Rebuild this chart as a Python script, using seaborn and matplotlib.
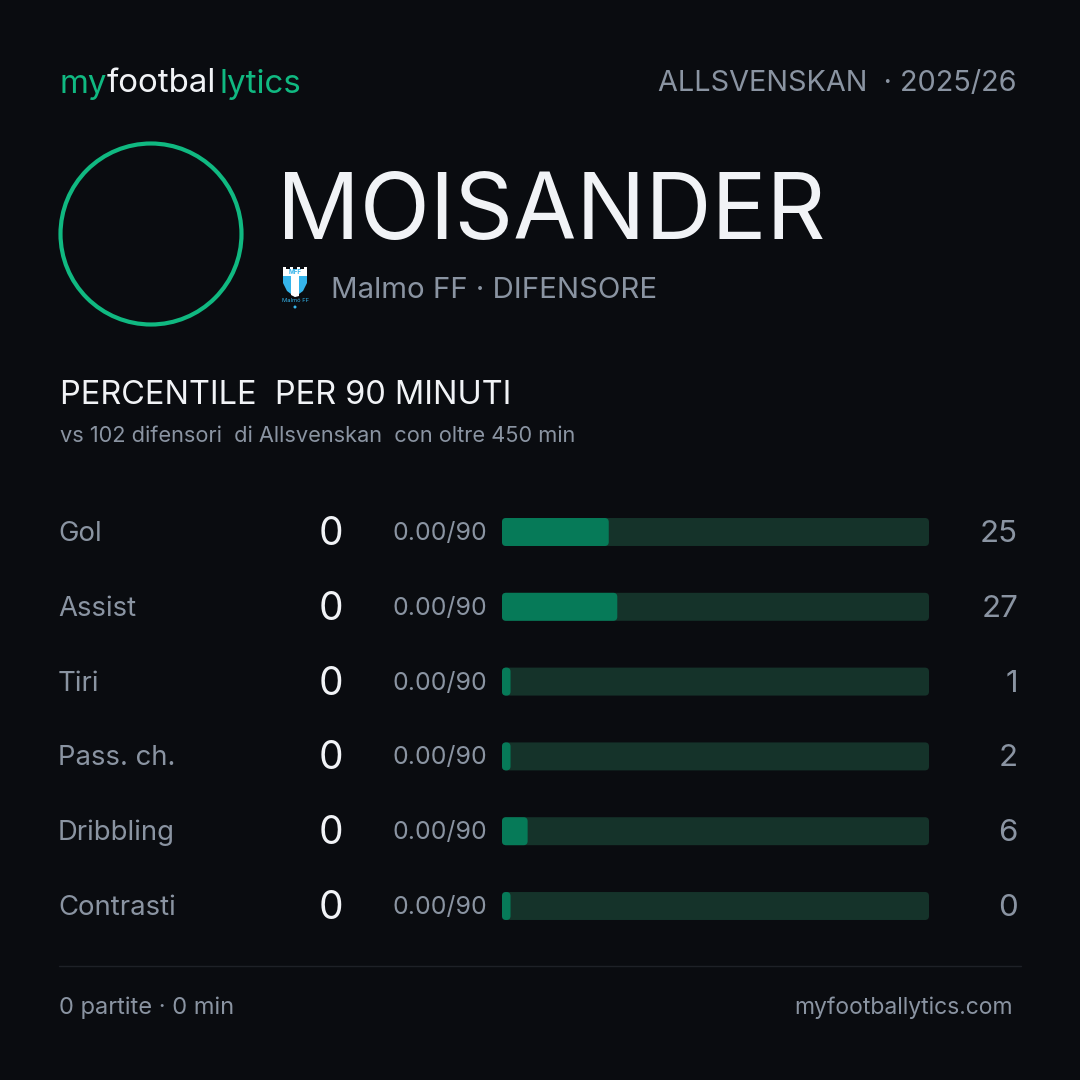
import matplotlib
matplotlib.use('Agg')
import matplotlib.pyplot as plt
import seaborn as sns
import pandas as pd
from matplotlib.patches import Circle, FancyBboxPatch, Polygon

# Data
metrics = ['Gol', 'Assist', 'Tiri', 'Pass. ch.', 'Dribbling', 'Contrasti']
totals = [0, 0, 0, 0, 0, 0]
per90 = ['0.00/90', '0.00/90', '0.00/90', '0.00/90', '0.00/90', '0.00/90']
percentiles = [25, 27, 1, 2, 6, 0]
min_bar = 2  # very small percentiles still get a visible stub

BG = '#0a0c10'
GREEN = '#10b981'
WHITE = '#f1f3f6'
GREY = '#8a94a2'
BAR = '#067a58'
TRACK = '#15332a'
CREST = '#35b4ea'

sns.set_theme(style='white')
plt.rcParams['font.family'] = ['Inter', 'DejaVu Sans']

fig = plt.figure(figsize=(10.8, 10.8), dpi=100, facecolor=BG)

# full-figure overlay in pixel coordinates for text and decoration
ov = fig.add_axes([0, 0, 1, 1], zorder=2)
ov.set_xlim(0, 1080)
ov.set_ylim(1080, 0)
ov.axis('off')


def txt(x, y, s, size, color=GREY, ha='left', weight='normal'):
    ov.text(x, y, s, fontsize=size, color=color, ha=ha, va='center', fontweight=weight)


# header
txt(59, 84, 'my', 23.8, GREEN)
txt(107, 84, 'footbal', 23.8, WHITE)
txt(220, 84, 'lytics', 23.8, GREEN)
txt(1017, 83, 'ALLSVENSKAN  · 2025/26', 20.8, GREY, ha='right')

# player
ov.add_patch(Circle((151, 234), 90.5, fill=False, ec=GREEN, lw=3.0))
txt(277, 215, 'MOISANDER', 66, WHITE)
txt(331, 290, 'Malmo FF · DIFENSORE', 21.2, GREY)

# club crest
ov.add_patch(Polygon([(283, 272), (307, 272), (307, 283), (303, 291), (295, 297),
                      (287, 291), (283, 283)], fc=CREST, ec='none'))
ov.add_patch(Polygon([(291, 276), (299, 276), (299, 296), (295, 297), (291, 295)],
                     fc='white', ec='none'))
ov.add_patch(Polygon([(283, 267), (286, 267), (286, 269), (290, 269), (290, 267), (293, 267),
                      (293, 269), (297, 269), (297, 267), (300, 267), (300, 269), (304, 269),
                      (304, 267), (307, 267), (307, 276), (283, 276)], fc='white', ec='none'))
ov.text(295, 272.5, 'MFF', fontsize=4.5, color=CREST, ha='center', va='center', fontweight='bold')
ov.text(295, 301, 'Malmö FF', fontsize=4.2, color=CREST, ha='center', va='center')
ov.add_patch(Circle((295, 307), 1.5, fc=CREST, ec='none'))

# section heading
txt(60, 395, 'PERCENTILE  PER 90 MINUTI', 23.4, WHITE)
txt(60, 436, 'vs 102 difensori  di Allsvenskan  con oltre 450 min', 15.7, GREY)

# bars
bar_ax = fig.add_axes([502 / 1080, 1 - 943.4 / 1080, 427 / 1080, 448.8 / 1080], zorder=1)
bar_ax.patch.set_alpha(0)
df = pd.DataFrame({'metric': metrics, 'pct': [max(p, min_bar) for p in percentiles],
                   'full': [100] * len(metrics)})
sns.barplot(data=df, y='metric', x='full', color=TRACK, saturation=1, width=0.374, ax=bar_ax)
sns.barplot(data=df, y='metric', x='pct', color=BAR, saturation=1, width=0.374, ax=bar_ax)
bar_ax.set_xlim(0, 100)
bar_ax.set_ylim(5.5, -0.5)
bar_ax.axis('off')

# swap the square bars for rounded ones
aspect = (427 / 100) / 74.8
for rect in list(bar_ax.patches):
    x0, y0, w, h = rect.get_x(), rect.get_y(), rect.get_width(), rect.get_height()
    bar_ax.add_patch(FancyBboxPatch((x0, y0), w, h, boxstyle='round,pad=0,rounding_size=0.95',
                                    mutation_aspect=aspect, fc=rect.get_facecolor(), ec='none',
                                    clip_on=False))
    rect.remove()

# row labels, placed through the bar axes' y scale
for i, (m, t, r, p) in enumerate(zip(metrics, totals, per90, percentiles)):
    y = 1080 - bar_ax.transData.transform((0, i))[1]
    txt(58, y + 2, m, 19.8, GREY)
    txt(343, y + 2.5, str(t), 28, WHITE, ha='right')
    txt(487, y + 1.5, r, 17.9, GREY, ha='right')
    txt(1018, y + 2, str(p), 22.5, GREY, ha='right')

# footer
ov.plot([59, 1021], [965.5, 965.5], color='#1e2127', lw=1)
txt(59, 1008, '0 partite · 0 min', 17, GREY)
txt(1013, 1008, 'myfootballytics.com', 16.5, GREY, ha='right')

fig.savefig('out.png', dpi=100, facecolor=BG)
